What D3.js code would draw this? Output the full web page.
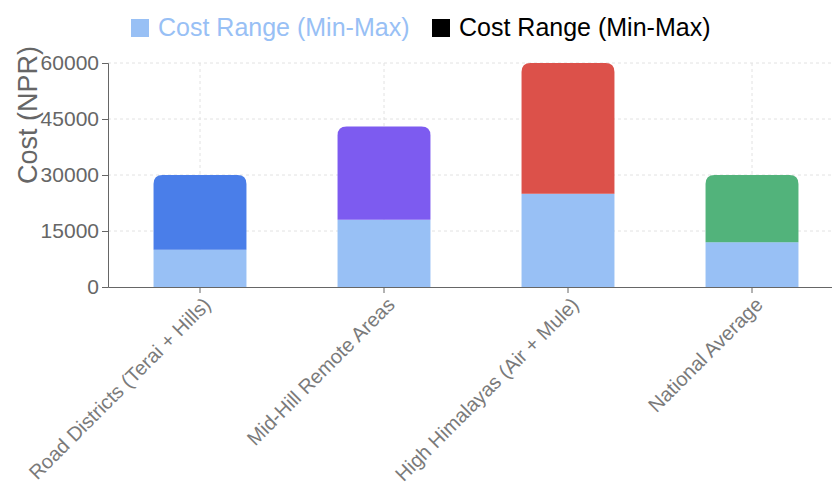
<!DOCTYPE html>
<html>
<head>
<meta charset="utf-8">
<script src="https://cdn.jsdelivr.net/npm/d3@7"></script>
<style>
  html, body { margin: 0; padding: 0; background: #fff; overflow: hidden; }
  svg { display: block; font-family: "Liberation Sans", Arial, sans-serif; }
</style>
</head>
<body>
<svg id="chart" width="832" height="482"></svg>
<script>
// ---- data ----
const categories = ["Road Districts (Terai + Hills)", "Mid-Hill Remote Areas", "High Himalayas (Air + Mule)", "National Average"];
const minCost = [10000, 18000, 25000, 12000];
const maxCost = [30000, 43000, 60000, 30000];
const rangeColors = ["#4a7ee9", "#7d5bf0", "#dc514a", "#52b37b"];
const minColor = "#98c0f5";
const yTicks = [0, 15000, 30000, 45000, 60000];
const legendLabels = ["Cost Range (Min-Max)", "Cost Range (Min-Max)"];
const yLabel = "Cost (NPR)";

// ---- layout ----
const svg = d3.select("#chart");
const margin = { left: 108, top: 63, bottom: 287, right: 844 };

const x = d3.scaleBand().domain(categories).range([margin.left, margin.right])
  .paddingInner(0.495).paddingOuter(0.2475);
const y = d3.scaleLinear().domain([0, 60000]).range([margin.bottom, margin.top]);

const rows = categories.map((c, i) => ({ cat: c, min: minCost[i], max: maxCost[i], color: rangeColors[i] }));

// grid
const grid = svg.append("g");
grid.selectAll("line.h").data(yTicks.slice(1)).join("line")
  .attr("x1", margin.left).attr("x2", 832)
  .attr("y1", d => y(d)).attr("y2", d => y(d))
  .attr("stroke", "#e2e2e2").attr("stroke-dasharray", "3 3");
grid.selectAll("line.v").data(categories).join("line")
  .attr("x1", d => x(d) + x.bandwidth() / 2).attr("x2", d => x(d) + x.bandwidth() / 2)
  .attr("y1", margin.top).attr("y2", margin.bottom)
  .attr("stroke", "#e2e2e2").attr("stroke-dasharray", "3 3");

// bars - bottom (min)
svg.append("g").selectAll("rect").data(rows).join("rect")
  .attr("x", d => x(d.cat)).attr("width", x.bandwidth())
  .attr("y", d => y(d.min)).attr("height", d => y(0) - y(d.min))
  .attr("fill", minColor);

// bars - top (range), rounded top corners
const r = 9;
svg.append("g").selectAll("path").data(rows).join("path")
  .attr("d", d => {
    const x0 = x(d.cat), x1 = x0 + x.bandwidth();
    const yt = y(d.max), yb = y(d.min);
    return `M${x0},${yb}L${x0},${yt + r}Q${x0},${yt} ${x0 + r},${yt}L${x1 - r},${yt}Q${x1},${yt} ${x1},${yt + r}L${x1},${yb}Z`;
  })
  .attr("fill", d => d.color);

// y axis
const yAxis = svg.append("g").attr("transform", `translate(${margin.left},0)`)
  .call(d3.axisLeft(y).tickValues(yTicks).tickSize(6).tickPadding(3).tickFormat(d3.format("d")));
yAxis.select(".domain").attr("stroke", "#666");
yAxis.selectAll(".tick line").attr("stroke", "#666");
yAxis.selectAll(".tick text").attr("fill", "#666").style("font-size", "21px")
  .style("font-family", "'Liberation Sans', Arial, sans-serif");

// x axis
const xAxis = svg.append("g").attr("transform", `translate(0,${margin.bottom})`)
  .call(d3.axisBottom(x).tickSize(6).tickSizeOuter(0));
xAxis.select(".domain").attr("stroke", "#666");
xAxis.selectAll(".tick line").attr("stroke", "#666");
xAxis.selectAll(".tick text")
  .attr("fill", "#7a7a7a")
  .style("font-size", "20px")
  .style("font-family", "'Liberation Sans', Arial, sans-serif")
  .attr("text-anchor", "end")
  .attr("dy", null).attr("y", null)
  .attr("transform", "translate(12,19) rotate(-45)");

// y label
svg.append("text")
  .attr("transform", "translate(37,115) rotate(-90)")
  .attr("text-anchor", "middle")
  .attr("fill", "#666")
  .style("font-size", "27px")
  .text(yLabel);

// legend
const legend = svg.append("g");
const items = [
  { label: legendLabels[0], color: minColor, text: minColor, x: 131 },
  { label: legendLabels[1], color: "#000", text: "#000", x: 432 }
];
items.forEach(it => {
  legend.append("rect").attr("x", it.x).attr("y", 19).attr("width", 18).attr("height", 18).attr("fill", it.color);
  legend.append("text").attr("x", it.x + 27).attr("y", 36).attr("fill", it.text)
    .style("font-size", "25px").text(it.label);
});
</script>
</body>
</html>
